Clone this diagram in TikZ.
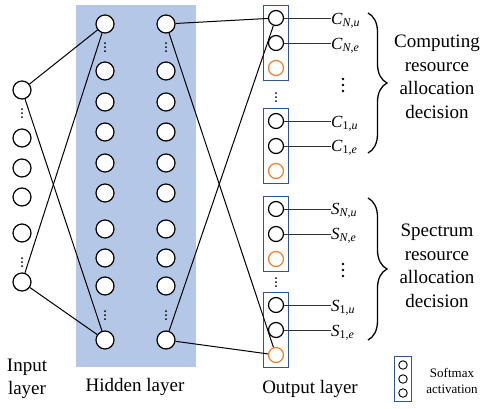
\documentclass[tikz,border=0pt]{standalone}
\usepackage{fontspec}
\setmainfont{Liberation Serif}
\usetikzlibrary{fit, decorations.pathreplacing}
\definecolor{hidfill}{RGB}{180,199,231}
\definecolor{boxblue}{RGB}{47,85,151}
\definecolor{softorange}{RGB}{237,125,49}
\newcommand{\outlbl}[3]{\textit{#1}\textsubscript{#2,\textit{#3}}}
\tikzset{
  neu/.style    ={draw, circle, minimum size=18pt, inner sep=0pt, fill=white, line width=1.2pt},
  onode/.style  ={draw, circle, minimum size=15pt, inner sep=0pt, line width=1.2pt},
  snode/.style  ={onode, draw=softorange},
  obox/.style   ={draw=boxblue, line width=1.2pt, inner sep=4.5pt},
  lnode/.style  ={draw, circle, minimum size=8.5pt, inner sep=0pt, line width=0.9pt},
  lbox/.style   ={draw=boxblue, line width=1pt, inner sep=3.5pt},
  wire/.style   ={line width=1pt},
  lwire/.style  ={line width=0.8pt, black!80},
  olbl/.style   ={anchor=base west, inner sep=0pt, font=\fontsize{17}{17}\selectfont},
  layname/.style={font=\fontsize{19}{23}\selectfont, align=center},
  decname/.style={font=\fontsize{19}{23.5}\selectfont, align=center},
  brc/.style    ={decorate, decoration={brace, amplitude=19pt}, line width=1.3pt},
  smalldots/.pic={\foreach \d in {-4,0,4} \fill (0,\d) circle (1pt);},
  bigdots/.pic  ={\foreach \d in {-6,0,6} \fill (0,\d) circle (1.3pt);},
}

\begin{document}
\begin{tikzpicture}[x=1pt, y=-1pt]
  \useasboundingbox (0,0) rectangle (485,408);
  \fill[hidfill] (76,5) rectangle (196,367);
  % input layer
  \foreach \n/\y in {1/90, 2/138, 3/168, 4/197, 5/233, 6/282}
    \node[neu] (i\n) at (22,\y) {};
  \pic at (22,113) {smalldots};
  \pic at (22,262) {smalldots};
  % hidden layers
  \foreach \n/\y in {1/24, 2/71, 3/102, 4/132, 5/163, 6/193, 7/229, 8/258, 9/286, 10/340} {
    \node[neu] (h\n) at (105,\y) {};
    \node[neu] (g\n) at (166,\y) {};
  }
  \foreach \x in {105, 166} {
    \pic at (\x,47) {smalldots};
    \pic at (\x,315) {smalldots};
  }
  % output layer
  \foreach \b/\y in {1/18, 2/121, 3/209, 4/305} {
    \node[onode] (o\b1) at (276,\y) {};
    \node[onode] (o\b2) at (276,\y+25) {};
    \node[snode] (o\b3) at (276,\y+50) {};
    \node[obox, fit=(o\b1)(o\b3)] (b\b) {};
  }
  \pic at (276,97) {smalldots};
  \pic at (276,282) {smalldots};
  % connections
  \draw[wire] (i1) -- (h1);
  \draw[wire] (i1) -- (h10);
  \draw[wire] (i6) -- (h1);
  \draw[wire] (i6) -- (h10);
  \draw[wire] (g1) -- (o11);
  \draw[wire] (g1) -- (o43);
  \draw[wire] (g10) -- (o11);
  \draw[wire] (g10) -- (o43);
  % decision labels
  \node[olbl] (cNu) at (331,24) {\outlbl{C}{\textit{N}}{u}};
  \node[olbl] (cNe) at (331,49) {\outlbl{C}{\textit{N}}{e}};
  \node[olbl] (c1u) at (331,127) {\outlbl{C}{1}{u}};
  \node[olbl] (c1e) at (331,151) {\outlbl{C}{1}{e}};
  \node[olbl] (sNu) at (331,214) {\outlbl{S}{\textit{N}}{u}};
  \node[olbl] (sNe) at (331,239) {\outlbl{S}{\textit{N}}{e}};
  \node[olbl] (s1u) at (331,311) {\outlbl{S}{1}{u}};
  \node[olbl] (s1e) at (331,336) {\outlbl{S}{1}{e}};
  \draw[lwire] (o11.east) -- (o11 -| cNu.west);
  \draw[lwire] (o12.east) -- (o12 -| cNe.west);
  \draw[lwire] (o21.east) -- (o21 -| c1u.west);
  \draw[lwire] (o22.east) -- (o22 -| c1e.west);
  \draw[lwire] (o31.east) -- (o31 -| sNu.west);
  \draw[lwire] (o32.east) -- (o32 -| sNe.west);
  \draw[lwire] (o41.east) -- (o41 -| s1u.west);
  \draw[lwire] (o42.east) -- (o42 -| s1e.west);
  \pic at (343,85) {bigdots};
  \pic at (343,270) {bigdots};
  \draw[brc] (368,13) -- (368,153);
  \draw[brc] (368,198) -- (368,340);
  \node[decname] (comp) at (437,77) {Computing\\resource\\allocation\\decision};
  \node[decname] (spec) at (437,266) {Spectrum\\resource\\allocation\\decision};
  % layer names
  \node[layname] (inp) at (27,379) {Input\\layer};
  \node[layname] (hid) at (135,387) {Hidden layer};
  \node[layname] (out) at (310,389) {Output layer};
  % legend
  \node[lnode] (l1) at (403,365) {};
  \node[lnode] (l2) at (403,379) {};
  \node[lnode] (l3) at (403,393) {};
  \node[lbox, fit=(l1)(l3)] (lb) {};
  \node[font=\fontsize{13}{16}\selectfont, align=center] (soft) at (452,381) {Softmax\\activation};
\end{tikzpicture}
\end{document}
